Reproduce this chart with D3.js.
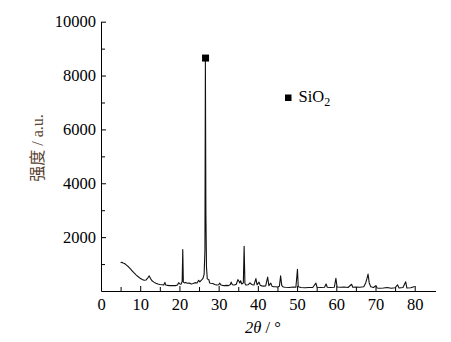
<!DOCTYPE html>
<html>
<head>
<meta charset="utf-8">
<script src="https://cdn.jsdelivr.net/npm/d3@7"></script>
<style>
  body { margin: 0; background: #fff; }
  svg { display: block; }
  .axis text { font-family: "Liberation Serif", "Times New Roman", serif; font-size: 16.5px; fill: #000; }
  .axis path, .axis line { stroke: #000; stroke-width: 1; }
</style>
</head>
<body>
<svg width="451" height="342"></svg>
<script>
// 2theta (deg) and intensity (a.u.)
var twoTheta = [5.0, 5.3, 5.6, 6.0, 6.5, 7.0, 7.5, 8.0, 8.5, 9.0, 9.5, 10.0, 10.5, 11.0, 11.5, 12.0, 12.3, 12.6, 13.0, 13.5,
  14.0, 14.5, 15.0, 15.5, 16.0, 16.3, 16.5, 17.0, 17.5, 18.0, 18.5, 19.0, 19.5, 19.8, 20.1, 20.4, 20.7, 20.85, 21.0, 21.3,
  21.6, 22.0, 22.5, 23.0, 23.5, 24.0, 24.5, 24.9, 25.2, 25.6, 26.0, 26.3, 26.5, 26.62, 26.75, 26.9, 27.1, 27.5, 27.7, 28.0,
  28.5, 29.0, 29.5, 30.0, 30.3, 30.6, 31.0, 31.5, 32.0, 32.5, 33.0, 33.2, 33.5, 34.0, 34.5, 34.9, 35.1, 35.4, 35.6, 35.9,
  36.3, 36.5, 36.7, 37.0, 37.5, 38.0, 38.3, 38.6, 39.0, 39.5, 39.8, 40.3, 40.6, 41.0, 41.5, 42.0, 42.5, 42.8, 43.3, 43.6,
  44.0, 44.5, 45.0, 45.5, 45.8, 46.1, 46.5, 47.0, 48.0, 49.0, 49.7, 50.1, 50.3, 51.0, 52.0, 53.0, 54.0, 54.8, 55.1, 56.0,
  57.0, 57.4, 57.7, 58.5, 59.5, 59.9, 60.2, 61.0, 62.0, 63.0, 63.9, 64.2, 65.0, 66.0, 67.0, 67.5, 67.8, 68.1, 68.4, 68.8,
  69.5, 70.1, 70.4, 71.0, 72.0, 73.0, 74.0, 75.0, 75.6, 76.0, 77.0, 77.7, 78.0, 79.0, 80.0];
var intensity = [1050, 1070, 1040, 1020, 960, 900, 820, 740, 660, 590, 530, 470, 430, 400, 410, 500, 560, 470, 380, 330,
  290, 260, 240, 230, 220, 320, 220, 210, 200, 200, 205, 200, 220, 310, 260, 250, 350, 1540, 330, 300,
  320, 290, 300, 260, 280, 310, 300, 400, 340, 400, 470, 620, 1500, 8550, 2900, 900, 450, 420, 300, 290,
  280, 240, 220, 230, 290, 220, 210, 200, 210, 200, 240, 330, 230, 220, 250, 420, 380, 300, 380, 260,
  300, 1660, 280, 220, 230, 300, 260, 230, 220, 460, 230, 330, 210, 190, 180, 190, 520, 200, 290, 180,
  160, 160, 150, 180, 560, 200, 150, 140, 130, 150, 140, 810, 160, 130, 120, 130, 130, 290, 140, 130,
  140, 260, 140, 130, 140, 470, 150, 140, 150, 130, 250, 140, 150, 140, 160, 300, 450, 630, 300, 160,
  130, 200, 110, 100, 110, 130, 100, 120, 230, 110, 130, 340, 110, 120, 170];

var xTicks = [0, 10, 20, 30, 40, 50, 60, 70, 80];
var xMinor = [5, 15, 25, 35, 45, 55, 65, 75];
var yTicks = [2000, 4000, 6000, 8000, 10000];
var yMinor = [1000, 3000, 5000, 7000, 9000];
var peakMarks = [{x: 26.66, y: 8650}];
var legendLabel = "SiO";

var svg = d3.select("svg"),
    margin = {top: 21.7, right: 15.5, bottom: 51, left: 101},
    width = +svg.attr("width"),
    height = +svg.attr("height");

var x = d3.scaleLinear().domain([0, 85.3]).range([margin.left, width - margin.right]),
    y = d3.scaleLinear().domain([0, 10000]).range([height - margin.bottom, margin.top]);

var data = twoTheta.map(function(t, i) { return {t: t, v: intensity[i]}; });

// axes
svg.append("g")
    .attr("class", "axis")
    .attr("transform", "translate(0," + y(0) + ")")
    .call(d3.axisBottom(x).tickValues(xTicks).tickSize(-5).tickSizeOuter(0).tickPadding(7).tickFormat(d3.format("d")));

svg.append("g")
    .attr("class", "axis")
    .attr("transform", "translate(0," + y(0) + ")")
    .call(d3.axisBottom(x).tickValues(xMinor).tickSize(-4).tickSizeOuter(0).tickFormat(""))
    .select(".domain").remove();

svg.append("g")
    .attr("class", "axis")
    .attr("transform", "translate(" + x(0) + ",0)")
    .call(d3.axisLeft(y).tickValues(yTicks).tickSize(-5).tickSizeOuter(0).tickPadding(5).tickFormat(d3.format("d")));

svg.append("g")
    .attr("class", "axis")
    .attr("transform", "translate(" + x(0) + ",0)")
    .call(d3.axisLeft(y).tickValues(yMinor).tickSize(-4).tickSizeOuter(0).tickFormat(""))
    .select(".domain").remove();

// pattern
var line = d3.line()
    .x(function(d) { return x(d.t); })
    .y(function(d) { return y(d.v); });

svg.append("path")
    .datum(data)
    .attr("fill", "none")
    .attr("stroke", "#111")
    .attr("stroke-width", 1.1)
    .attr("stroke-linejoin", "round")
    .attr("d", line);

// peak marker
svg.selectAll(".mark")
  .data(peakMarks)
  .enter().append("rect")
    .attr("class", "mark")
    .attr("x", function(d) { return x(d.x) - 3.5; })
    .attr("y", function(d) { return y(d.y) - 3.5; })
    .attr("width", 7)
    .attr("height", 7)
    .attr("fill", "#000");

// legend
svg.append("rect")
    .attr("x", 285)
    .attr("y", 94.5)
    .attr("width", 6.5)
    .attr("height", 6.5)
    .attr("fill", "#000");

var lt = svg.append("text")
    .attr("x", 298.5)
    .attr("y", 102)
    .style("font-family", "Liberation Serif, serif")
    .style("font-size", "16.5px")
    .text(legendLabel);
lt.append("tspan")
    .attr("dy", 4)
    .style("font-size", "12px")
    .text("2");

// axis titles
svg.append("text")
    .attr("transform", "translate(43,148) rotate(-90)")
    .attr("text-anchor", "middle")
    .style("font-family", "Liberation Serif, 'Noto Sans CJK SC', serif")
    .style("font-size", "16px")
    .style("fill", "#5a4332")
    .text("强度 / a.u.");

var xt = svg.append("text")
    .attr("x", 263)
    .attr("y", 333)
    .attr("text-anchor", "middle")
    .style("font-family", "Liberation Serif, serif")
    .style("font-size", "16.5px");
xt.append("tspan").style("font-style", "italic").text("2θ");
xt.append("tspan").text(" / °");
</script>
</body>
</html>
